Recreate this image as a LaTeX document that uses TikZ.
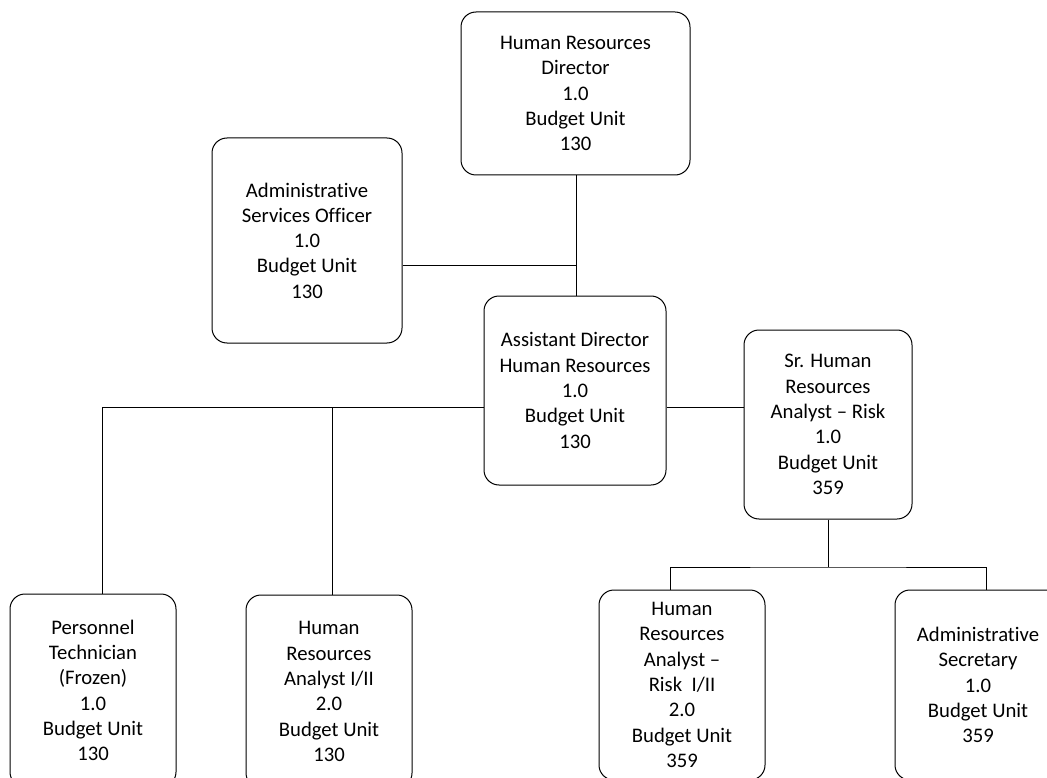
\documentclass[tikz,border=0pt]{standalone}
\usepackage{fontspec}
\setmainfont{Carlito}[Ligatures={NoCommon}]
\begin{document}
\begin{tikzpicture}[x=1pt,y=-1pt,
  box/.style={draw, line width=1pt, rounded corners=15pt, align=center,
    font=\fontsize{20.7}{25.3}\selectfont, inner sep=0pt},
  link/.style={draw, line width=0.8pt}]
\clip (0,0) rectangle (1047,778);
\useasboundingbox (0,0) rectangle (1047,778);
\node[box, minimum width=229pt, minimum height=163pt] (hrd) at (575.5,93.5)
  {Human Resources\\Director\\1.0\\Budget Unit\\130};
\node[box, minimum width=190pt, minimum height=205pt] (aso) at (307,240.5)
  {Administrative\\Services Officer\\1.0\\Budget Unit\\130};
\node[box, minimum width=182pt, minimum height=189pt] (ad) at (575,390.5)
  {Assistant Director\\Human Resources\\1.0\\Budget Unit\\130};
\node[box, minimum width=168pt, minimum height=189pt] (sr) at (828,424.5)
  {Sr. Human\\Resources\\Analyst -- Risk\\1.0\\Budget Unit\\359};
\node[box, minimum width=166pt, minimum height=193pt] (pt) at (93,690.5)
  {Personnel\\Technician\\(Frozen)\\1.0\\Budget Unit\\130};
\node[box, minimum width=166pt, minimum height=193pt] (hra) at (329,691.5)
  {Human\\Resources\\Analyst I/II\\2.0\\Budget Unit\\130};
\node[box, minimum width=166pt, minimum height=190pt] (hrar) at (682,685)
  {Human\\Resources\\Analyst --\\Risk\ \ I/II\\2.0\\Budget Unit\\359};
\node[box, minimum width=166pt, minimum height=190pt] (as) at (978,685)
  {Administrative\\Secretary\\1.0\\Budget Unit\\359};
% connectors
\coordinate (j1) at (576,265);
\coordinate (adtop) at (576,296);
\coordinate (hrdbot) at (576,175);
\draw[link] (hrdbot) -- (adtop);
\draw[link] (aso.east |- j1) -- (j1);
\coordinate (ptTop) at (102,594);
\coordinate (hraTop) at (332,595);
\draw[link] (ad.west |- 0,407) -- (102,407) coordinate (lcorner) -- (ptTop);
\draw[link] (332,407) -- (hraTop);
\draw[link] (ad.east |- 0,407) -- (sr.west |- 0,407);
\coordinate (j2) at (828,567);
\coordinate (hrarTop) at (670,590);
\coordinate (asTop) at (986,590);
\draw[link] (sr.south) -- (j2);
\draw[link] (hrarTop) |- (j2) -| (asTop);
\end{tikzpicture}
\end{document}
